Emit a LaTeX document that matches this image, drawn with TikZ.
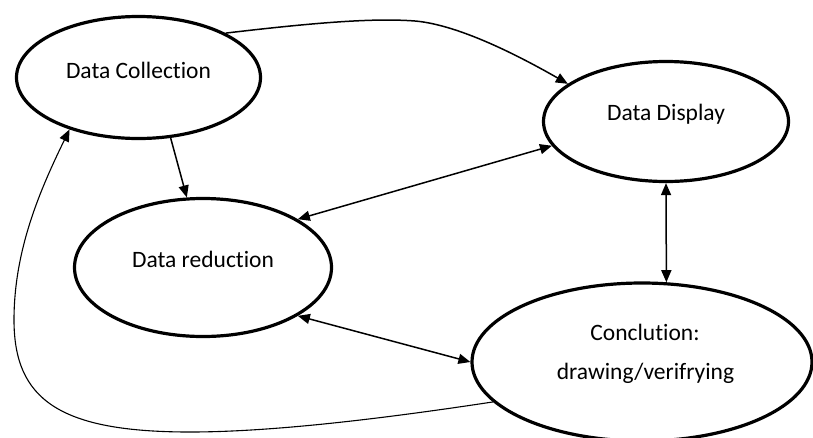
\documentclass[tikz,border=0pt]{standalone}
\usepackage{fontspec}
\setmainfont{Carlito}[RawFeature={-liga}]
\usetikzlibrary{shapes.geometric,arrows.meta}
\tikzset{
  ell/.style={draw=black, line width=3.2pt, ellipse, inner sep=0pt},
  lbl/.style={anchor=base, inner sep=0pt, font=\fontsize{23.5}{28}\selectfont},
  arr/.style={draw=black, line width=1.5pt, -{Triangle[length=12pt,width=10pt]}},
  darr/.style={draw=black, line width=1.5pt, {Triangle[length=12pt,width=10pt]}-{Triangle[length=12pt,width=10pt]}},
  thin curve/.style={draw=black, line width=1.1pt}
}
\begin{document}
\begin{tikzpicture}[x=1pt,y=-1pt]
\clip (0,0) rectangle (813,437);
\fill[white] (0,0) rectangle (813,437);
% ellipses
\node[ell, minimum width=244pt, minimum height=122pt] (dc) at (138.5,77.5) {};
\node[ell, minimum width=245pt, minimum height=120pt] (dd) at (666,121.5) {};
\node[ell, minimum width=257pt, minimum height=138pt] (dr) at (203,267.5) {};
\node[ell, minimum width=340pt, minimum height=158pt] (co) at (642,362) {};
% texts
\node[lbl] (dct) at (138.5,78) {Data Collection};
\node[lbl] (ddt) at (666,120) {Data Display};
\node[lbl] (drt) at (203,267.5) {Data reduction};
\node[lbl] (cot1) at (645,340.5) {Conclution:};
\node[lbl] (cot2) at (645.5,379) {drawing/verifrying};
% connectors
\path[arr] (dc.-62) -- (dr.103);
\path[arr] (dc.27) .. controls (320,22) and (375,18) .. (415,21)
  .. controls (450,24) and (500,45) .. (dd.159);
\path[darr] (dr.27) -- (dd.192);
\path[darr] (dr.-27) -- (co.180);
\path[darr] (dd.south) -- (co.73);
\coordinate (b1) at (190,432);
\coordinate (b2) at (14,320);
\path[thin curve, -{Triangle[length=12pt,width=10pt]}] (co.195) .. controls (400,416) and (280,432) .. (b1)
  .. controls (60,432) and (14,400) .. (b2)
  .. controls (14,250) and (40,190) .. (dc.217);
\end{tikzpicture}
\end{document}
